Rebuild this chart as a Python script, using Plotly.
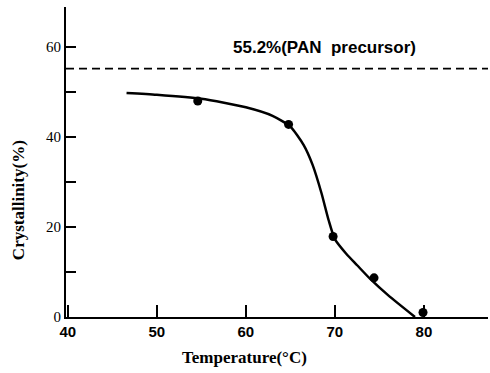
import plotly.graph_objects as go

# measured points
temp_pts = [54.6, 64.8, 69.8, 74.4, 79.9]
cryst_pts = [48.0, 42.8, 17.9, 8.7, 1.0]

# fitted curve
curve_x = [46.6, 50, 55, 60, 63, 65, 66.5, 67.5, 68.5, 69.3, 70, 71.3, 72.5, 74, 76, 79]
curve_y = [49.8, 49.4, 48.5, 46.6, 44.7, 42.3, 38.2, 33.8, 27.5, 21.5, 17.3, 14.0, 11.5, 8.4, 4.8, 0]

pan_level = 55.2
pan_label = "<b>55.2%(PAN  precursor)</b>"

x_ticks = [40, 50, 60, 70, 80]
y_ticks = [0, 10, 20, 30, 40, 50, 60]
y_labels = ["0", "", "20", "", "40", "", "60"]

fig = go.Figure()
fig.add_trace(go.Scatter(x=[39.8, 87.2], y=[pan_level, pan_level], mode="lines",
                         line=dict(color="black", width=1.6, dash="8px,5px"),
                         showlegend=False, hoverinfo="skip"))
fig.add_trace(go.Scatter(x=curve_x, y=curve_y, mode="lines",
                         line=dict(color="black", width=2.5, shape="spline", smoothing=0.6),
                         showlegend=False, cliponaxis=False))
fig.add_trace(go.Scatter(x=temp_pts, y=cryst_pts, mode="markers",
                         marker=dict(color="black", size=9),
                         showlegend=False, cliponaxis=False))

fig.add_annotation(x=68.8, y=60, text=pan_label, showarrow=False,
                   font=dict(family="Liberation Sans", size=17, color="black"),
                   xanchor="center", yanchor="middle")

# axis titles placed as annotations to match original positions
fig.add_annotation(xref="paper", yref="paper", x=0.424, y=0, yshift=-40,
                   text="<b>Temperature(°C)</b>", showarrow=False,
                   font=dict(family="Liberation Serif", size=17, color="black"),
                   xanchor="center", yanchor="middle")
fig.add_annotation(xref="paper", yref="paper", x=0, xshift=-48, y=0.377,
                   text="<b>Crystallinity(%)</b>", showarrow=False, textangle=-90,
                   font=dict(family="Liberation Serif", size=17, color="black"),
                   xanchor="center", yanchor="middle")

fig.update_layout(
    width=490, height=373,
    margin=dict(l=66, r=2, t=7, b=56),
    paper_bgcolor="white", plot_bgcolor="white",
    font=dict(family="Liberation Serif", color="black"),
    xaxis=dict(range=[39.8, 87.2], tickvals=x_ticks, ticktext=["<b>%d</b>" % v for v in x_ticks],
               ticks="inside", ticklen=12, tickwidth=2, tickcolor="black",
               showline=True, linecolor="black", linewidth=2, showgrid=False, zeroline=False,
               tickfont=dict(family="Liberation Sans", size=15, color="black")),
    yaxis=dict(range=[0, 68.9], tickvals=y_ticks, ticktext=y_labels,
               ticks="inside", ticklen=10, tickwidth=2, tickcolor="black",
               showline=True, linecolor="black", linewidth=2, showgrid=False, zeroline=False,
               tickfont=dict(family="Liberation Serif", size=15, color="black")),
)

fig.write_html("out.html")
